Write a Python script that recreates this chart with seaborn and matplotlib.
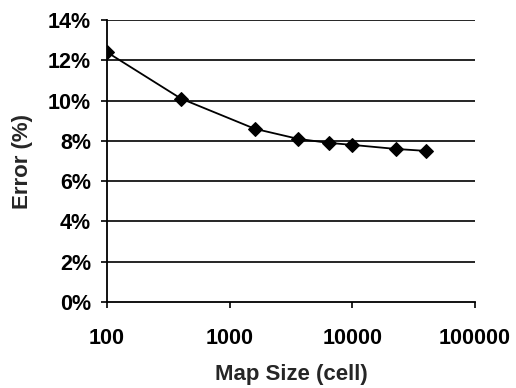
import numpy as np
import pandas as pd
import matplotlib
matplotlib.use("Agg")
import matplotlib.pyplot as plt
import matplotlib.ticker as mticker
import seaborn as sns

# Data
map_size = [100, 400, 1600, 3600, 6400, 10000, 22500, 40000]
error_pct = [12.4, 10.1, 8.6, 8.1, 7.9, 7.8, 7.6, 7.5]
y_ticks = [0, 2, 4, 6, 8, 10, 12, 14]
x_ticks = [100, 1000, 10000, 100000]

df = pd.DataFrame({"Map Size (cell)": map_size, "Error (%)": error_pct})

sns.set_style("white")
plt.rcParams["font.family"] = ["Liberation Sans", "DejaVu Sans"]
plt.rcParams["font.weight"] = "bold"

fig = plt.figure(figsize=(5.16, 3.88), dpi=100)
ax = fig.add_axes([0.2074, 0.2216, 0.7131, 0.7269])

# horizontal gridlines
for yv in y_ticks[1:]:
    ax.axhline(yv, color="black", lw=1.2, zorder=1)

sns.lineplot(data=df, x="Map Size (cell)", y="Error (%)", ax=ax,
             color="black", lw=1.3, marker="D", markersize=7,
             markeredgecolor="black", zorder=3)

ax.set_xscale("log")
ax.set_xlim(100, 100000)
ax.set_ylim(0, 14)
ax.set_xticks(x_ticks)
ax.xaxis.set_major_formatter(mticker.FuncFormatter(lambda v, p: "{:d}".format(int(round(v)))))
ax.xaxis.set_minor_locator(mticker.NullLocator())
ax.set_yticks(y_ticks)
ax.set_yticklabels(["{}%".format(v) for v in y_ticks])

for s in ["top", "right"]:
    ax.spines[s].set_visible(False)
for s in ["left", "bottom"]:
    ax.spines[s].set_color("black")
    ax.spines[s].set_linewidth(1.3)

ax.tick_params(axis="both", which="major", direction="out", length=4.5, width=1.2,
               colors="black", labelsize=15.5, bottom=True, left=True)
ax.tick_params(axis="x", pad=14)
ax.tick_params(axis="y", pad=7)
for lab in ax.get_xticklabels() + ax.get_yticklabels():
    lab.set_fontweight("bold")

ax.set_xlabel("Map Size (cell)", fontsize=16, fontweight="bold", labelpad=11)
ax.set_ylabel("Error (%)", fontsize=16, fontweight="bold", labelpad=11)

plt.savefig("out.png", dpi=100)
